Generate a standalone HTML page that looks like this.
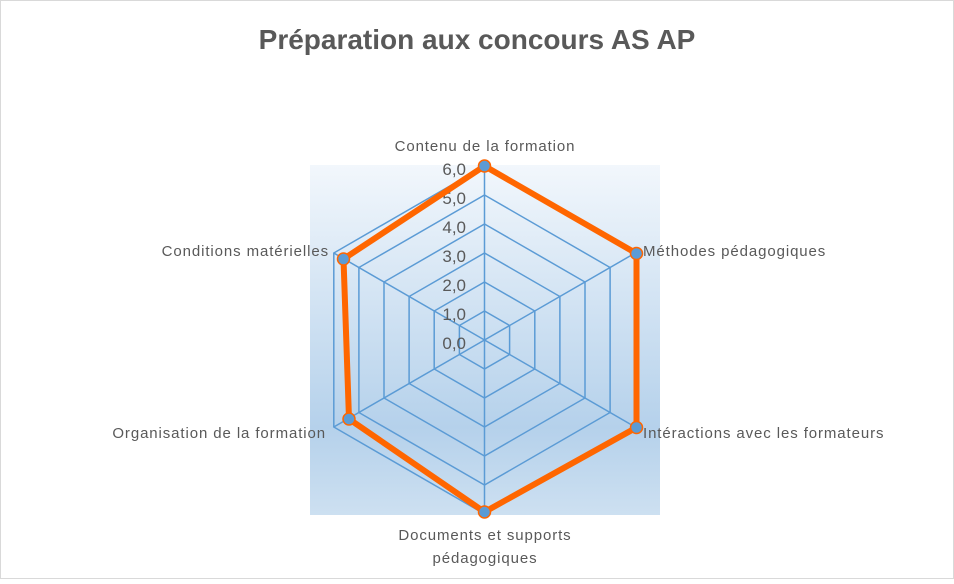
<!DOCTYPE html>
<html><head><meta charset="utf-8"><style>
html,body{margin:0;padding:0;background:#fff}
body{width:954px;height:579px;overflow:hidden}
</style></head><body>
<svg width="954" height="579" xmlns="http://www.w3.org/2000/svg" font-family="Liberation Sans, sans-serif">
<defs>
<linearGradient id="g" x1="0" y1="0" x2="0" y2="1">
<stop offset="0" stop-color="#f2f7fc"/>
<stop offset="0.75" stop-color="#b5d1eb"/>
<stop offset="1" stop-color="#cde0f1"/>
</linearGradient>
</defs>
<rect x="0.5" y="0.5" width="953" height="578" fill="#fff" stroke="#d9d9d9"/>
<text x="477" y="49" text-anchor="middle" font-size="28" font-weight="bold" fill="#595959">Préparation aux concours AS AP</text>
<rect x="310" y="165" width="350" height="350" fill="url(#g)"/>
<g fill="none" stroke="#5b9bd5" stroke-width="1.5">
<polygon points="484.5,311 509.6,325.5 509.6,354.5 484.5,369 459.4,354.5 459.4,325.5"/>
<polygon points="484.5,282 534.8,311 534.8,369 484.5,398 434.2,369 434.2,311"/>
<polygon points="484.5,253 559.9,296.5 559.9,383.5 484.5,427 409.1,383.5 409.1,296.5"/>
<polygon points="484.5,224 585.0,282 585.0,398 484.5,456 384.0,398 384.0,282"/>
<polygon points="484.5,195 610.1,267.5 610.1,412.5 484.5,485 358.9,412.5 358.9,267.5"/>
<polygon points="484.5,166 635.2,253 635.2,427 484.5,514 333.8,427 333.8,253"/>
<line x1="484.5" y1="340" x2="484.5" y2="166"/>
<line x1="484.5" y1="340" x2="635.2" y2="253"/>
<line x1="484.5" y1="340" x2="635.2" y2="427"/>
<line x1="484.5" y1="340" x2="484.5" y2="514"/>
<line x1="484.5" y1="340" x2="333.8" y2="427"/>
<line x1="484.5" y1="340" x2="333.8" y2="253"/>
</g>
<g font-size="17" fill="#595959" text-anchor="end">
<text x="466" y="349">0,0</text>
<text x="466" y="320">1,0</text>
<text x="466" y="291">2,0</text>
<text x="466" y="262">3,0</text>
<text x="466" y="233">4,0</text>
<text x="466" y="204">5,0</text>
<text x="466" y="175">6,0</text>
</g>
<polygon points="484.5,166 636.5,253.5 636.5,427.5 484.5,512 349,419 343.5,259" fill="none" stroke="#ff6600" stroke-width="6" stroke-linejoin="round"/>
<g fill="#5b9bd5" stroke="#ff6600" stroke-width="1.5">
<circle cx="484.5" cy="166" r="6"/><circle cx="636.5" cy="253.5" r="6"/><circle cx="636.5" cy="427.5" r="6"/>
<circle cx="484.5" cy="512" r="6"/><circle cx="349" cy="419" r="6"/><circle cx="343.5" cy="259" r="6"/>
</g>
<g font-size="15" fill="#595959" letter-spacing="0.9">
<text x="485" y="151" text-anchor="middle">Contenu de la formation</text>
<text x="643" y="256">Méthodes pédagogiques</text>
<text x="643" y="438">Intéractions avec les formateurs</text>
<text x="485" y="540" text-anchor="middle">Documents et supports</text>
<text x="485" y="563" text-anchor="middle">pédagogiques</text>
<text x="326" y="438" text-anchor="end">Organisation de la formation</text>
<text x="329" y="256" text-anchor="end">Conditions matérielles</text>
</g>
</svg>
</body></html>
